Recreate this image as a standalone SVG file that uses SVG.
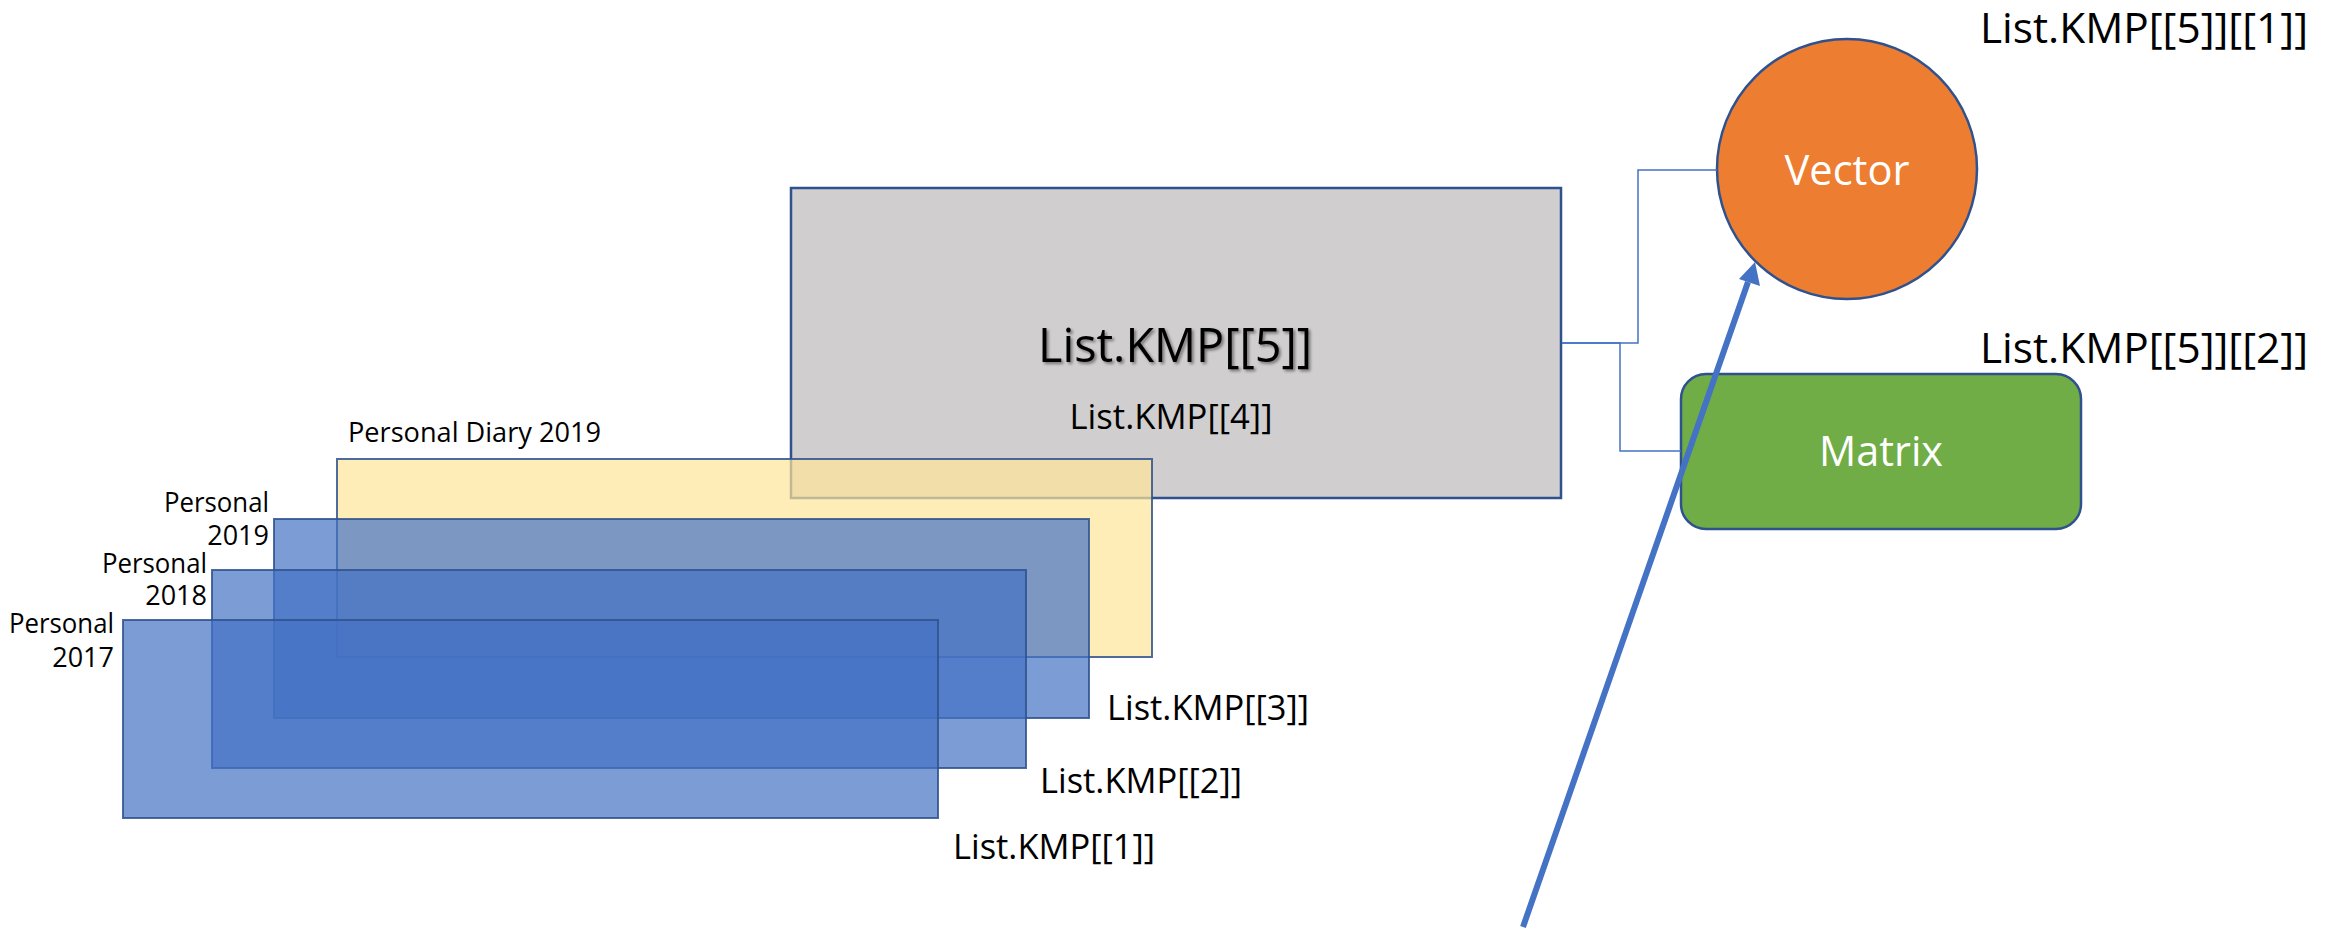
<svg xmlns="http://www.w3.org/2000/svg" width="2346" height="930" viewBox="0 0 2346 930">
<style>
  text { font-family: "Open Sans", "Noto Sans", "DejaVu Sans", sans-serif; fill: #000; }
  .lbl { font-size: 35px; }
  .big { font-size: 42px; }
  .white { fill: #fff; font-size: 42px; }
  .small { font-size: 27px; }
  .blue { fill: #4472C4; fill-opacity: 0.7; stroke: #2F528F; stroke-width: 2; stroke-opacity: 0.85; }
  .conn { fill: none; stroke: #4472C4; stroke-width: 1.5; }
</style>
<defs>
  <filter id="sh" x="-10%" y="-20%" width="120%" height="150%">
    <feGaussianBlur in="SourceAlpha" stdDeviation="1.5"/>
    <feOffset dx="2" dy="2" result="b"/>
    <feComponentTransfer><feFuncA type="linear" slope="0.45"/></feComponentTransfer>
    <feMerge><feMergeNode/><feMergeNode in="SourceGraphic"/></feMerge>
  </filter>
</defs>
<rect width="2346" height="930" fill="#fff"/>

<g id="list5">
  <rect x="791" y="188" width="770" height="310" fill="#D0CECE" stroke="#2F528F" stroke-width="2.5"/>
  <text x="1175" y="362" text-anchor="middle" font-size="48" textLength="274" lengthAdjust="spacingAndGlyphs" filter="url(#sh)">List.KMP[[5]]</text>
  <text class="lbl" x="1171" y="429" text-anchor="middle" textLength="203" lengthAdjust="spacingAndGlyphs">List.KMP[[4]]</text>
</g>

<g id="diary2019">
  <rect x="337" y="459" width="815" height="198" fill="#FFE699" fill-opacity="0.7" stroke="#2F528F" stroke-width="2" stroke-opacity="0.85"/>
  <text x="348" y="442" font-size="27" textLength="253" lengthAdjust="spacingAndGlyphs">Personal Diary 2019</text>
</g>

<g id="personal2019">
  <rect class="blue" x="274" y="519" width="815" height="199"/>
  <text class="small" x="269" y="512" text-anchor="end" textLength="105" lengthAdjust="spacingAndGlyphs">Personal</text>
  <text class="small" x="269" y="545" text-anchor="end">2019</text>
  <text class="lbl" x="1107" y="720" textLength="202" lengthAdjust="spacingAndGlyphs">List.KMP[[3]]</text>
</g>

<g id="personal2018">
  <rect class="blue" x="212" y="570" width="814" height="198"/>
  <text class="small" x="207" y="573" text-anchor="end" textLength="105" lengthAdjust="spacingAndGlyphs">Personal</text>
  <text class="small" x="207" y="605" text-anchor="end">2018</text>
  <text class="lbl" x="1040" y="793" textLength="202" lengthAdjust="spacingAndGlyphs">List.KMP[[2]]</text>
</g>

<g id="personal2017">
  <rect class="blue" x="123" y="620" width="815" height="198"/>
  <text class="small" x="114" y="633" text-anchor="end" textLength="105" lengthAdjust="spacingAndGlyphs">Personal</text>
  <text class="small" x="114" y="667" text-anchor="end">2017</text>
  <text class="lbl" x="953" y="859" textLength="202" lengthAdjust="spacingAndGlyphs">List.KMP[[1]]</text>
</g>

<g id="vector">
  <circle cx="1847" cy="169" r="130" fill="#ED7D31" stroke="#2F528F" stroke-width="2.5"/>
  <text class="white" x="1847" y="185" text-anchor="middle" textLength="125" lengthAdjust="spacingAndGlyphs">Vector</text>
  <text class="big" x="1980" y="43" textLength="328" lengthAdjust="spacingAndGlyphs">List.KMP[[5]][[1]]</text>
</g>

<g id="matrix">
  <rect x="1681" y="374" width="400" height="155" rx="25" ry="25" fill="#70AD47" stroke="#2F528F" stroke-width="2.5"/>
  <text class="white" x="1881" y="466" text-anchor="middle" textLength="124" lengthAdjust="spacingAndGlyphs">Matrix</text>
  <text class="big" x="1980" y="363" textLength="328" lengthAdjust="spacingAndGlyphs">List.KMP[[5]][[2]]</text>
</g>

<g id="connectors">
  <polyline class="conn" points="1562,343 1638,343 1638,170 1717,170"/>
  <polyline class="conn" points="1562,343 1620,343 1620,451 1681,451"/>
  <line x1="1523" y1="927" x2="1748" y2="282" stroke="#4472C4" stroke-width="6"/>
  <polygon points="1755,262 1739,279 1760,286" fill="#4472C4"/>
</g>
</svg>
